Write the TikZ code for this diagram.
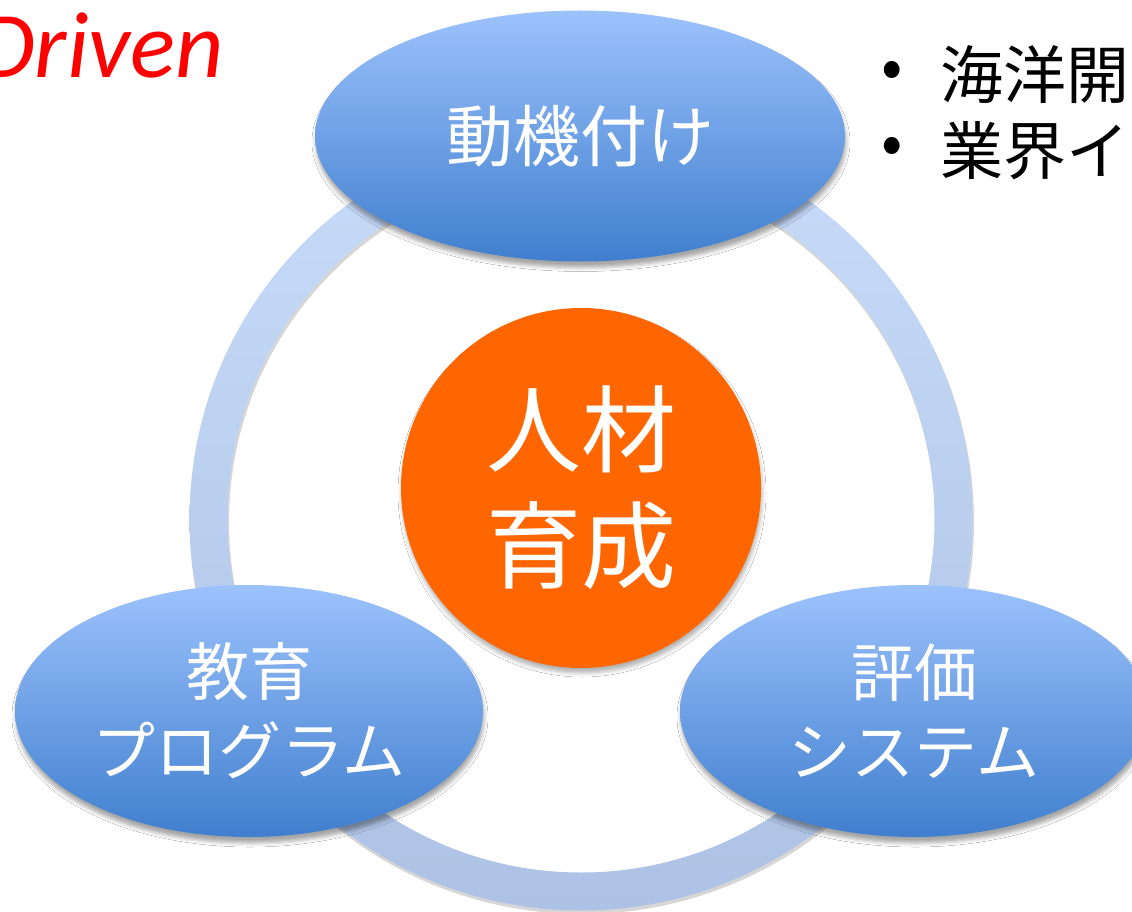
\documentclass[tikz,border=0pt]{standalone}
\usepackage{fontspec}
\usetikzlibrary{shapes.geometric,shadows.blur}
\newfontfamily\jpfont{Noto Sans CJK JP}
\newfontfamily\drivenfont{Carlito}
\definecolor{elltop}{RGB}{156,194,252}
\definecolor{ellbot}{RGB}{64,127,206}
\definecolor{ringtop}{RGB}{199,219,249}
\definecolor{ringbot}{RGB}{173,194,228}
\definecolor{coreorange}{RGB}{255,102,0}
\tikzset{
  blob/.style={ellipse, inner sep=0pt, top color=elltop, bottom color=ellbot,
    text=white, align=center, font=\jpfont\fontsize{63}{79}\selectfont,
    blur shadow={shadow xshift=1pt, shadow yshift=-6pt, shadow blur radius=4pt, shadow opacity=35}},
  corestyle/.style={circle, inner sep=0pt, minimum size=360pt, fill=coreorange,
    text=white, align=center, font=\jpfont\fontsize{95}{116}\selectfont,
    blur shadow={shadow xshift=1pt, shadow yshift=-5pt, shadow blur radius=4pt, shadow opacity=30}},
  bulletstyle/.style={inner sep=0pt, font=\jpfont\fontsize{63}{76}\selectfont, text=black},
}
\begin{document}
\begin{tikzpicture}[x=1pt,y=1pt]
\useasboundingbox (0,0) rectangle (1132,-912);
\clip (0,0) rectangle (1132,-912);
\fill[white] (0,0) rectangle (1132,-912);
% ring shadow and ring
\fill[black, opacity=0.16, even odd rule] (582,-522) circle (392) (582,-522) circle (353);
\shade[top color=ringtop, bottom color=ringbot, even odd rule] (581,-519) circle (391.5) (581,-519) circle (353.5);
% centre
\node[corestyle] (core) at (581,-488) {人材\\育成};
% ellipses
\node[blob, minimum width=530pt, minimum height=251pt, font=\jpfont\fontsize{67}{79}\selectfont] (motiv) at (580,-136) {動機付け};
\node[blob, minimum width=468pt, minimum height=252pt] (edu) at (249,-711) {教育\\プログラム};
\node[blob, minimum width=468pt, minimum height=252pt] (eval) at (914,-711) {評価\\システム};
% Driven
\node[anchor=base east, inner sep=0pt, text=red, font=\drivenfont\itshape\fontsize{94}{100}\selectfont] (driven) at (224,-78) {Driven};
% bullets
\node[bulletstyle] (b1) at (892,-75) {•};
\node[bulletstyle, anchor=west] (t1) at (940,-75) {海洋開};
\node[bulletstyle] (b2) at (892,-151) {•};
\node[bulletstyle, anchor=west] (t2) at (940,-151) {業界イノ};
\end{tikzpicture}
\end{document}
